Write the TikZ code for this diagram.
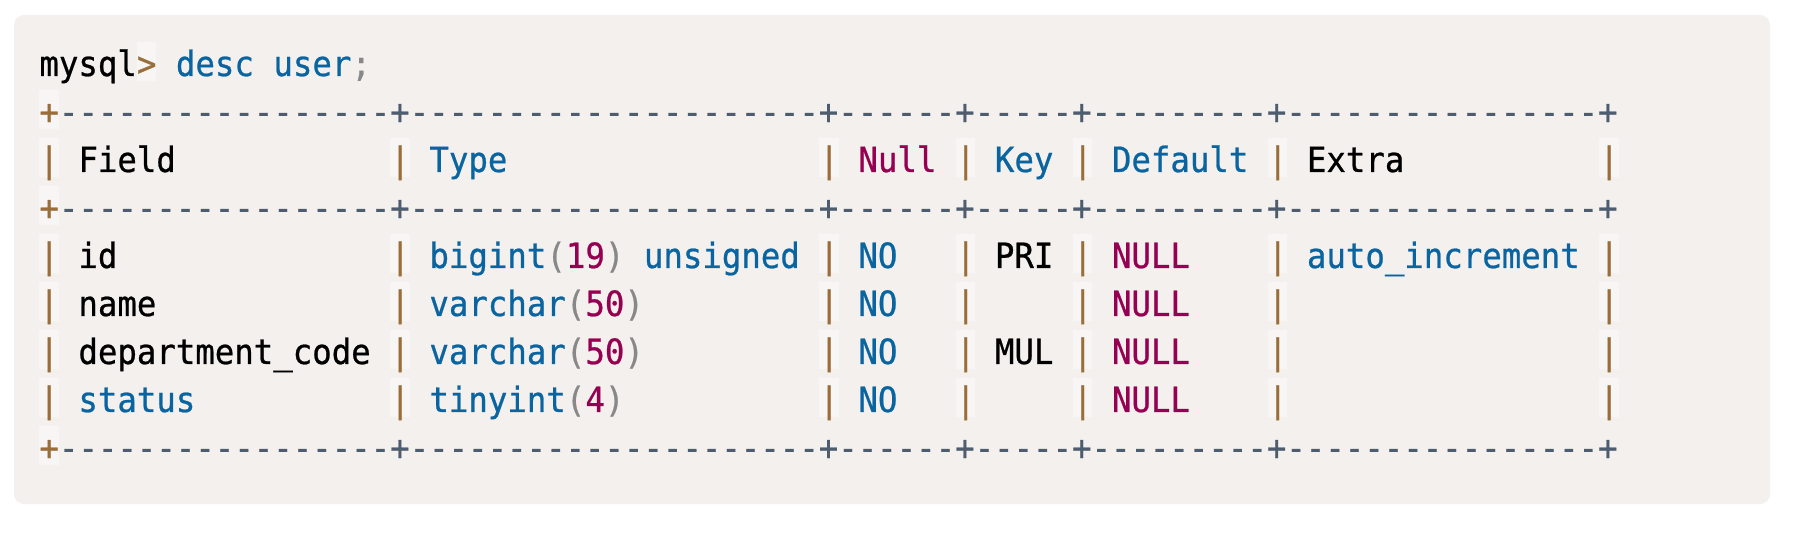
\documentclass[tikz,border=0pt]{standalone}
\usepackage{fontspec}
\setmonofont[FakeStretch=0.93, FakeBold=0.7]{DejaVu Sans Mono}
\usepackage{xcolor}

\definecolor{codebg}{HTML}{F3F0ED}
\definecolor{kw}{HTML}{0A64A0}
\definecolor{num}{HTML}{960052}
\definecolor{punc}{HTML}{888888}
\definecolor{op}{HTML}{9A6E3A}
\definecolor{cmt}{HTML}{4E5D6E}

\newcommand\rulestr{-----------------+---------------------+------+-----+---------+----------------+}

\tikzset{
  tok/.style={inner sep=0pt, anchor=base west, text=black,
    font=\ttfamily\fontsize{34.8}{48}\selectfont},
  kwtok/.style={tok, text=kw},
  numtok/.style={tok, text=num},
  punctok/.style={tok, text=punc},
  cmttok/.style={tok, text=cmt},
  optok/.style={tok, text=op, fill=white, fill opacity=0.4, text opacity=1,
    text height=34pt, text depth=5pt},
}

\begin{document}
\begin{tikzpicture}
\useasboundingbox (0pt,0pt) rectangle (1802pt,-534pt);
\fill[codebg, rounded corners=10pt] (14pt,-15pt) rectangle (1770pt,-504pt);
\begin{scope}[shift={(39.25pt,-76pt)}, x=19.5pt, y=-48pt]
  % prompt
  \node[tok] (prompt) at (0,0) {mysql};
  \node[optok] (gt) at (5,0) {>};
  \node[kwtok] (desc) at (7,0) {desc};
  \node[kwtok] (tbl) at (12,0) {user};
  \node[punctok] (semi) at (16,0) {;};
  % rules
  \foreach \r in {1,3,8} {
    \node[optok] (plus-\r) at (0,\r) {+};
    \node[cmttok] (rule-\r) at (1,\r) {\rulestr};
  }
  % bars
  \foreach \r in {2,4,5,6,7}
    \foreach \c in {0,18,40,47,53,63,80}
      \node[optok] (bar-\r-\c) at (\c,\r) {|};
  % header
  \node[tok] (h-field) at (2,2) {Field};
  \node[kwtok] (h-type) at (20,2) {Type};
  \node[numtok] (h-null) at (42,2) {Null};
  \node[kwtok] (h-key) at (49,2) {Key};
  \node[kwtok] (h-default) at (55,2) {Default};
  \node[tok] (h-extra) at (65,2) {Extra};
  % fields
  \node[tok] (f-id) at (2,4) {id};
  \node[tok] (f-name) at (2,5) {name};
  \node[tok] (f-dept) at (2,6) {department\_code};
  \node[kwtok] (f-status) at (2,7) {status};
  % types
  \node[kwtok] (t-id) at (20,4) {bigint};
  \node[punctok] (t-id-l) at (26,4) {(};
  \node[numtok] (t-id-n) at (27,4) {19};
  \node[punctok] (t-id-r) at (29,4) {)};
  \node[kwtok] (t-id-u) at (31,4) {unsigned};
  \foreach \r in {5,6} {
    \node[kwtok] (t-\r) at (20,\r) {varchar};
    \node[punctok] (t-\r-l) at (27,\r) {(};
    \node[numtok] (t-\r-n) at (28,\r) {50};
    \node[punctok] (t-\r-r) at (30,\r) {)};
  }
  \node[kwtok] (t-status) at (20,7) {tinyint};
  \node[punctok] (t-status-l) at (27,7) {(};
  \node[numtok] (t-status-n) at (28,7) {4};
  \node[punctok] (t-status-r) at (29,7) {)};
  % null, default
  \foreach \r in {4,5,6,7} {
    \node[kwtok] (n-\r) at (42,\r) {NO};
    \node[numtok] (d-\r) at (55,\r) {NULL};
  }
  % keys, extra
  \node[tok] (k-id) at (49,4) {PRI};
  \node[tok] (k-dept) at (49,6) {MUL};
  \node[kwtok] (x-id) at (65,4) {auto\_increment};
\end{scope}
\end{tikzpicture}
\end{document}
